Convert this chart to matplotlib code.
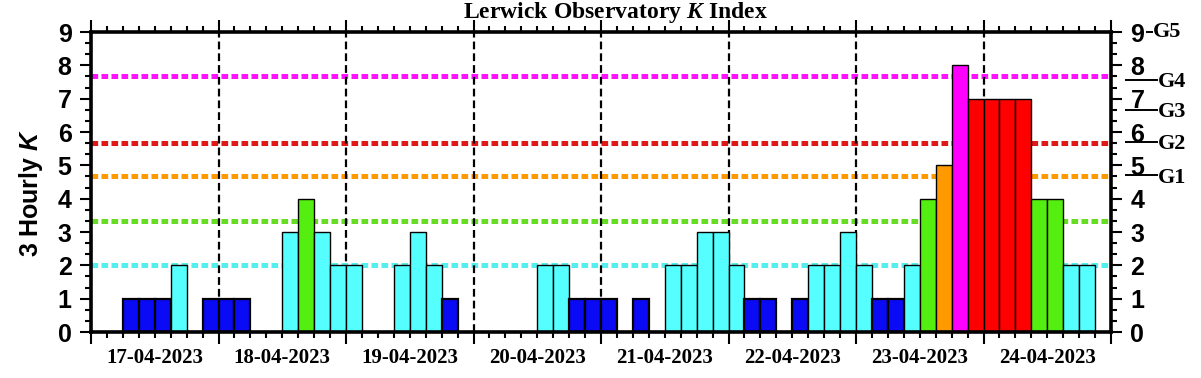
import numpy as np
import matplotlib
matplotlib.use("Agg")
import matplotlib.pyplot as plt
import matplotlib.transforms as mtransforms

# ---------------- data ----------------
dates = ["17-04-2023", "18-04-2023", "19-04-2023", "20-04-2023",
         "21-04-2023", "22-04-2023", "23-04-2023", "24-04-2023"]
k_17 = [0, 0, 1, 1, 1, 2, 0, 1]
k_18 = [1, 1, 0, 0, 3, 4, 3, 2]
k_19 = [2, 0, 0, 2, 3, 2, 1, 0]
k_20 = [0, 0, 0, 0, 2, 2, 1, 1]
k_21 = [1, 0, 1, 0, 2, 2, 3, 3]
k_22 = [2, 1, 1, 0, 1, 2, 2, 3]
k_23 = [2, 1, 1, 2, 4, 5, 8, 7]
k_24 = [7, 7, 7, 4, 4, 2, 2, 0]
k_values = k_17 + k_18 + k_19 + k_20 + k_21 + k_22 + k_23 + k_24

thresholds = [2.0, 3.33, 4.67, 5.67, 7.67]
threshold_colors = ["#55EEEE", "#66DD22", "#FF9900", "#E01818", "#FF11FF"]
g_labels = ["G1", "G2", "G3", "G4"]
g_levels = [4.71, 5.71, 6.67, 7.57]

# ---------------- style ----------------
plt.rcParams["font.family"] = ["Liberation Sans", "DejaVu Sans"]
plt.rcParams["font.weight"] = "bold"
plt.rcParams["mathtext.fontset"] = "custom"
plt.rcParams["mathtext.rm"] = "Liberation Serif:bold"
plt.rcParams["mathtext.it"] = "Liberation Serif:italic:bold"
plt.rcParams["mathtext.sf"] = "Liberation Sans:bold"
plt.rcParams["mathtext.tt"] = "Liberation Sans:italic:bold"

def k_color(k):
    if k <= 1:
        return "#0A0AF5"
    if k <= 3:
        return "#55FFFF"
    if k == 4:
        return "#55EE11"
    if k == 5:
        return "#FF9900"
    if k <= 7:
        return "#FF0000"
    return "#FF00FF"

fig = plt.figure(figsize=(12.01, 3.78), dpi=100)
ax = fig.add_axes([91 / 1201, 46 / 378, 1020 / 1201, 300 / 378])

n_days = len(dates)
n = len(k_values)
xpos = np.arange(n) / 8.0

# threshold lines (behind bars)
for y, c in zip(thresholds, threshold_colors):
    ax.axhline(y, color=c, lw=3.6, dashes=(1.33, 0.67), zorder=1)

# day separators
for d in range(1, n_days):
    ax.axvline(d, color="black", lw=1.6, dashes=(3.5, 1.8), zorder=1.5)

# bars
for x, k in zip(xpos, k_values):
    if k <= 0:
        continue
    lw = 1.6 if k <= 1 else 1.0
    ax.bar(x, k, width=1 / 8.0, align="edge", color=k_color(k),
           edgecolor="black", linewidth=lw, zorder=3)

ax.set_xlim(0, n_days)
ax.set_ylim(0, 9)

for s in ax.spines.values():
    s.set_linewidth(2.6)
    s.set_zorder(5)

ax.set_xticks(np.arange(n_days + 1))
ax.set_xticks(np.arange(n + 1) / 8.0, minor=True)
ax.set_xticklabels([])
ax.tick_params(axis="x", which="major", direction="out", length=8.5, width=1.5,
               top=True, bottom=True, labelbottom=False)
ax.tick_params(axis="x", which="minor", direction="out", length=4, width=1.5,
               top=True, bottom=True)

ax.set_yticks(np.arange(10))
ax.set_yticks(np.arange(0, 9.01, 1 / 3.0), minor=True)
ax.tick_params(axis="y", which="major", direction="out", length=8, width=1.5,
               left=True, right=True, labelleft=True, labelright=True,
               labelsize=18, pad=6)
ax.tick_params(axis="y", which="minor", direction="out", length=4.5, width=1.5,
               left=True, right=True)

# date labels
tr_x = mtransforms.blended_transform_factory(ax.transData, ax.transAxes)
for i, lab in enumerate(dates):
    ax.text(i + 0.5, -0.103, lab, transform=tr_x, ha="center", va="baseline",
            fontsize=15, family="Liberation Serif", fontweight="bold")

# G-scale annotations on the right
tr_y = mtransforms.blended_transform_factory(ax.transAxes, ax.transData)
for lab, lev in zip(g_labels, g_levels):
    ax.plot([1.0137, 1.046], [lev, lev], color="black", lw=1.4,
            transform=tr_y, clip_on=False, solid_capstyle="butt")
    ax.text(1.046, lev - 0.08, lab, transform=tr_y, ha="left", va="center",
            fontsize=16, family="Liberation Serif", fontweight="bold")
ax.plot([1.0345, 1.0415], [9, 9], color="black", lw=1.4, transform=tr_y,
        clip_on=False, solid_capstyle="butt")
ax.text(1.0415, 9, "G5", transform=tr_y, ha="left", va="center",
        fontsize=16, family="Liberation Serif", fontweight="bold")

# title
fig.text(616 / 1201, 1 - 18 / 378,
         r"$\mathrm{Lerwick\ Observatory\ }\mathit{K}\mathrm{\ Index}$",
         ha="center", va="baseline", fontsize=17)

# y label
fig.text(31 / 1201, 1 - 193 / 378, r"$\mathsf{3\ Hourly\ }\mathtt{K}$",
         rotation=90, ha="center", va="center", fontsize=18)

fig.savefig("out.png", dpi=100)
